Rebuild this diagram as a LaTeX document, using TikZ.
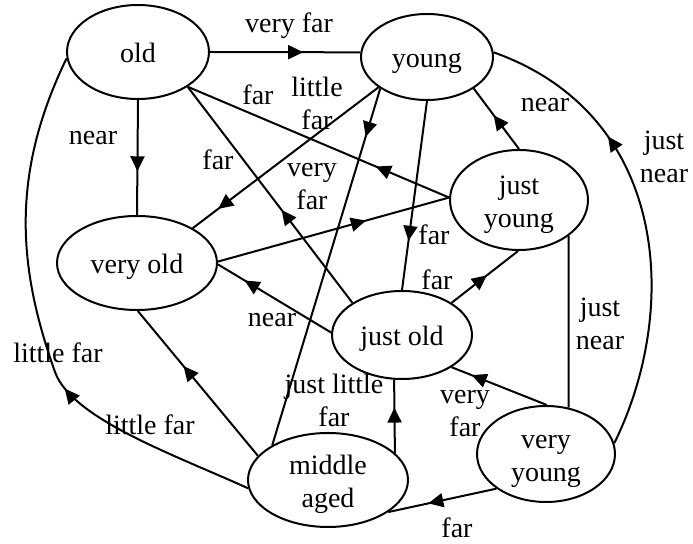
\documentclass[tikz,border=0pt]{standalone}
\usepackage{fontspec}
\setmainfont{Liberation Serif}
\usetikzlibrary{shapes.geometric, arrows.meta, decorations.markings}
\tikzset{
	statenode/.style={draw, ellipse, line width=1pt, inner sep=0pt, align=center, font=\fontsize{14}{16.5}\selectfont}
}
\tikzset{
	oneline/.style={text height=10.5pt, text depth=0pt},
	twoline/.style={text height=28pt, text depth=0pt}
}
\tikzset{
	edgetext/.style={inner sep=0pt, anchor=base, align=center, font=\fontsize{14}{16.5}\selectfont}
}
\tikzset{
	edgeline/.style={line width=1pt},
	midarrow/.style={postaction={decorate, decoration={markings, mark=at position #1 with {\arrow{Triangle[length=7.5pt, width=7pt]}}}}},
	midarrow/.default=0.62
}

\begin{document}
\begin{tikzpicture}[x=0.5pt, y=-0.5pt]
      \useasboundingbox (0,0) rectangle (693,544);
      % states
      \node[statenode, oneline, minimum width=71pt, minimum height=47pt] (old) at (138,52) {old};
      \node[statenode, oneline, minimum width=66pt, minimum height=43pt] (young) at (427,57) {young};
      \node[statenode, oneline, minimum width=80pt, minimum height=47pt] (veryold) at (137,263) {very old};
      \node[statenode, twoline, minimum width=69pt, minimum height=50pt] (justyoung) at (519,200) {just\\young};
      \node[statenode, oneline, minimum width=70pt, minimum height=44pt] (justold) at (402,335) {just old};
      \node[statenode, twoline, minimum width=80pt, minimum height=47pt] (middleaged) at (328,480) {middle\\aged};
      \node[statenode, twoline, minimum width=69pt, minimum height=48pt] (veryyoung) at (546,454) {very\\young};

      % transitions
      \draw[edgeline, midarrow=0.62] (old.0) -- (young.176);
      \draw[edgeline, midarrow=0.62] (old.270) -- (veryold.90);
      \draw[edgeline, midarrow=0.28] (justyoung.178) -- (old.-35);
      \draw[edgeline, midarrow=0.43] (justold.147) -- (old.-35);
      \draw[edgeline, midarrow=0.865] (young.-148) -- (veryold.32);
      \draw[edgeline, midarrow=0.135] (young.-146) -- (middleaged.148);
      \draw[edgeline, midarrow=0.74] (young.-90) -- (justold.90);
      \draw[edgeline, midarrow=0.56] (justyoung.90) -- (young.-34);
      \draw[edgeline, midarrow=0.69] (veryyoung.9) .. controls (680,310) and (670,115) .. (young.4);
      \draw[edgeline, midarrow=0.64] (veryold.1) -- (justyoung.178);
      \draw[edgeline, midarrow=0.765] (justold.178) -- (veryold.-1);
      \draw[edgeline, midarrow=0.53] (justold.33) -- (justyoung.-91);
      \draw[edgeline] (justyoung.-36) -- (veryyoung.64);
      \draw[edgeline, midarrow=0.79] (veryyoung.89) -- (justold.-33);
      \draw[edgeline, midarrow=0.62] (middleaged.22) -- (justold.-100);
      \draw[edgeline, midarrow=0.63] (veryyoung.-145) -- (middleaged.-28);
      \draw[edgeline, midarrow=0.62] (middleaged.161) -- (veryold.-89);
      \draw[edgeline, midarrow=0.38] (middleaged.-174) .. controls (175,455) and (72,419) .. (55,372)
            .. controls (18,268) and (10,175) .. (old.-175);

      % labels
      \node[edgetext] (t-oldyoung) at (289,33) {very far};
      \node[edgetext] (t-oldveryold) at (93,145) {near};
      \node[edgetext] (t-justyoungold) at (258,105) {far};
      \node[edgetext] (t-youngveryold) at (317,130) {little\\far};
      \node[edgetext] (t-justoldold) at (218,170) {far};
      \node[edgetext] (t-youngmiddle) at (312,210) {very\\far};
      \node[edgetext] (t-justyoungyoung) at (545,112) {near};
      \node[edgetext] (t-veryyoungyoung) at (664,183) {just\\near};
      \node[edgetext] (t-youngjustold) at (434,245) {far};
      \node[edgetext] (t-justoldjustyoung) at (437,290) {far};
      \node[edgetext] (t-justoldveryold) at (272,327) {near};
      \node[edgetext] (t-justyoungveryyoung) at (600,350) {just\\near};
      \node[edgetext] (t-middleold) at (58,363) {little far};
      \node[edgetext] (t-middleveryold) at (150,435) {little far};
      \node[edgetext] (t-middlejustold) at (334,427) {just little\\far};
      \node[edgetext] (t-veryyoungjustold) at (465,437) {very\\far};
      \node[edgetext] (t-veryyoungmiddle) at (457,538) {far};
    \end{tikzpicture}
\end{document}
